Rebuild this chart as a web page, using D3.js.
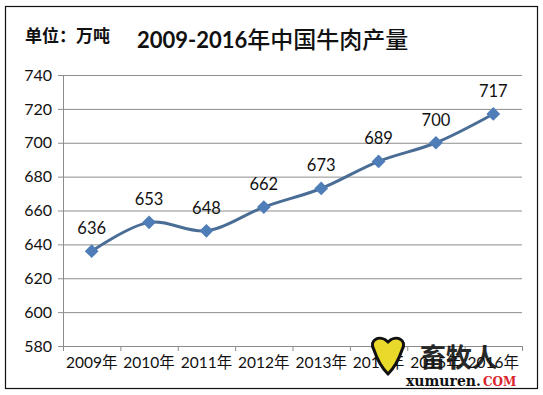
<!DOCTYPE html>
<html>
<head>
<meta charset="utf-8">
<script src="https://cdn.jsdelivr.net/npm/d3@7"></script>
<style>
  body { margin: 0; background: #fff; }
  text { font-family: Lato, "Noto Sans CJK SC", sans-serif; }
</style>
</head>
<body>
<script>
const years = ['2009年','2010年','2011年','2012年','2013年','2014年','2015年','2016年'];
const output = [636, 653, 648, 662, 673, 689, 700, 717];
const yTicks = [580, 600, 620, 640, 660, 680, 700, 720, 740];

const svg = d3.select('body').append('svg')
  .attr('width', 543)
  .attr('height', 395);

// outer frame
svg.append('rect')
  .attr('x', 5.5).attr('y', 6.5)
  .attr('width', 532).attr('height', 382)
  .attr('fill', '#fff')
  .attr('stroke', '#111').attr('stroke-width', 1.2);

const margin = {top: 75, right: 21, bottom: 49, left: 63};
const w = 543 - margin.left - margin.right;
const h = 395 - margin.top - margin.bottom;

const g = svg.append('g')
  .attr('transform', 'translate(' + margin.left + ',' + margin.top + ')');

const x = d3.scaleBand().domain(years).range([0, w]);
const y = d3.scaleLinear().domain([580, 740]).range([h, 0]);

// gridlines
g.selectAll('.grid').data(yTicks).enter().append('line')
  .attr('class', 'grid')
  .attr('x1', 0).attr('x2', w)
  .attr('y1', d => y(d) + 0.5).attr('y2', d => y(d) + 0.5)
  .attr('stroke', '#8c8c8c').attr('stroke-width', 1);

// y axis
const yAxis = g.append('g')
  .call(d3.axisLeft(y).tickValues(yTicks).tickSize(5).tickPadding(6));
yAxis.select('.domain').attr('stroke', '#8c8c8c');
yAxis.selectAll('.tick line').attr('stroke', '#8c8c8c');
yAxis.selectAll('text').attr('font-size', 16).attr('fill', '#111')
  .style('font-family', 'Lato, sans-serif');

// x axis, ticks between categories
const xAxis = g.append('g')
  .attr('transform', 'translate(0,' + h + ')')
  .call(d3.axisBottom(x).tickSize(0).tickPadding(11));
xAxis.select('.domain').attr('stroke', '#8c8c8c');
xAxis.selectAll('text').attr('font-size', 15.5).attr('fill', '#111')
  .style('font-family', 'Lato, "Noto Sans CJK SC", sans-serif');
g.selectAll('.xtick').data(years.concat(['end'])).enter().append('line')
  .attr('class', 'xtick')
  .attr('x1', (d, i) => i * x.step() + 0.5).attr('x2', (d, i) => i * x.step() + 0.5)
  .attr('y1', h).attr('y2', h + 5)
  .attr('stroke', '#8c8c8c');

// line
const line = d3.line()
  .x((d, i) => x(years[i]) + x.bandwidth() / 2)
  .y(d => y(d))
  .curve(d3.curveCatmullRom.alpha(0.5));

g.append('path')
  .datum(output)
  .attr('d', line)
  .attr('fill', 'none')
  .attr('stroke', '#4a6d96')
  .attr('stroke-width', 3);

// diamonds
g.selectAll('.pt').data(output).enter().append('path')
  .attr('class', 'pt')
  .attr('d', d3.symbol().type(d3.symbolDiamond2).size(120))
  .attr('transform', (d, i) => 'translate(' + (x(years[i]) + x.bandwidth() / 2) + ',' + y(d) + ')')
  .attr('fill', '#4f7db8');

// data labels
g.selectAll('.lbl').data(output).enter().append('text')
  .attr('class', 'lbl')
  .attr('x', (d, i) => x(years[i]) + x.bandwidth() / 2)
  .attr('y', d => y(d) - 17)
  .attr('text-anchor', 'middle')
  .attr('font-size', 16.5)
  .attr('fill', '#111')
  .text(d => d);

// titles
svg.append('text')
  .attr('x', 25).attr('y', 42)
  .attr('font-size', 17).attr('font-weight', 'bold')
  .style('font-family', '"Noto Sans CJK SC", sans-serif')
  .attr('fill', '#111')
  .text('单位：万吨');

const title = svg.append('text')
  .attr('x', 137).attr('y', 48)
  .attr('fill', '#111');
title.append('tspan')
  .attr('font-size', 22).attr('font-weight', 'bold')
  .style('font-family', 'Lato, sans-serif')
  .text('2009-2016');
title.append('tspan')
  .attr('font-size', 23).attr('font-weight', 500)
  .style('font-family', '"Noto Sans CJK SC", sans-serif')
  .text('年中国牛肉产量');

// watermark
const wm = svg.append('g').attr('transform', 'translate(374,350)');
wm.append('path')
  .attr('d', 'M0,0 C-6,-10 6,-16 14,-8 C22,-16 34,-10 28,0 C24,12 18,20 14,24 C10,20 4,12 0,0 Z')
  .attr('fill', '#e8d92a').attr('stroke', '#111').attr('stroke-width', 3);
wm.append('text')
  .attr('x', 46).attr('y', 17)
  .attr('font-size', 26).attr('font-weight', 'bold')
  .style('font-family', '"Noto Sans CJK SC", sans-serif')
  .attr('fill', '#111').attr('opacity', 0.9)
  .text('畜牧人');
wm.append('text')
  .attr('x', 32).attr('y', 36)
  .attr('font-size', 14).attr('font-weight', 'bold')
  .style('font-family', '"DejaVu Serif", serif')
  .attr('fill', '#111')
  .text('xumuren.');
wm.append('text')
  .attr('x', 109).attr('y', 36)
  .attr('font-size', 12).attr('font-weight', 'bold')
  .style('font-family', '"DejaVu Serif", serif')
  .attr('fill', '#d9242b')
  .text('COM');
</script>
</body>
</html>
